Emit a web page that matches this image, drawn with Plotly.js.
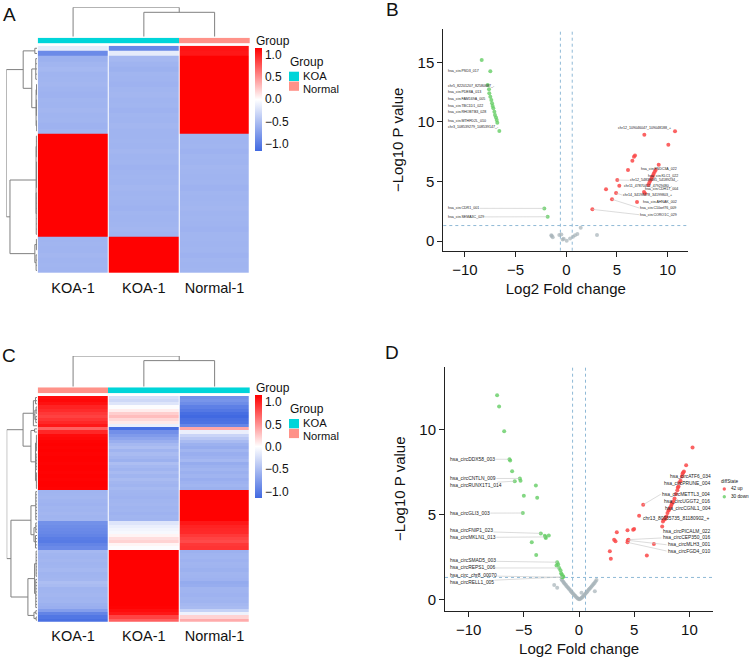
<!DOCTYPE html>
<html><head><meta charset="utf-8">
<script src="https://cdn.plot.ly/plotly-3.0.1.min.js"></script>
<style>html,body{margin:0;padding:0;background:#fff}#chart{width:753px;height:659px}</style>
</head><body><div id="chart"></div>
<script>
// ================= DATA =================
const sampleLabels = ['KOA-1', 'KOA-1', 'Normal-1'];
const groupsA = ['KOA', 'KOA', 'Normal'];
const groupsC = ['Normal', 'KOA', 'KOA'];
const groupLevels = ['KOA', 'Normal'];

// Heatmap A: row-scaled expression (rows = circRNAs, cols = samples)
const heatA = [
  [-0.15,-0.92,1.07],[-0.90,-0.15,1.05],
  [-0.60,-0.55,1.15],[-0.57,-0.58,1.15],[-0.55,-0.60,1.15],[-0.58,-0.57,1.15],[-0.57,-0.58,1.15],
  [-0.56,-0.59,1.15],[-0.58,-0.57,1.15],[-0.59,-0.56,1.15],[-0.57,-0.58,1.15],[-0.58,-0.57,1.15],
  [-0.56,-0.59,1.15],[-0.58,-0.57,1.15],[-0.57,-0.58,1.15],[-0.59,-0.56,1.15],[-0.57,-0.58,1.15],
  [1.15,-0.58,-0.57],[1.15,-0.57,-0.58],[1.15,-0.58,-0.57],[1.15,-0.56,-0.59],[1.15,-0.58,-0.57],
  [1.15,-0.57,-0.58],[1.15,-0.59,-0.56],[1.15,-0.58,-0.57],[1.15,-0.57,-0.58],[1.15,-0.58,-0.57],
  [1.15,-0.56,-0.59],[1.15,-0.58,-0.57],[1.15,-0.57,-0.58],[1.15,-0.58,-0.57],[1.15,-0.59,-0.56],
  [1.15,-0.57,-0.58],[1.15,-0.58,-0.57],[1.15,-0.57,-0.58],[1.15,-0.56,-0.59],[1.15,-0.58,-0.57],
  [-0.58,1.15,-0.57],[-0.57,1.15,-0.58],[-0.58,1.15,-0.57],[-0.56,1.15,-0.59],[-0.58,1.15,-0.57],
  [-0.57,1.15,-0.58],[-0.58,1.15,-0.57]
];

// Heatmap C
const heatC = [
  [1.10,-0.25,-0.85],[1.12,-0.30,-0.82],[1.08,-0.20,-0.88],[1.00,-0.02,-0.98],[0.96,0.08,-1.04],
  [0.90,0.22,-1.12],[0.86,0.30,-1.16],[0.92,0.18,-1.10],[0.98,0.10,-1.08],[1.05,-0.12,-0.93],
  [0.72,-1.12,0.40],[0.98,-0.86,-0.12],
  [1.10,-0.78,-0.32],[1.12,-0.70,-0.42],[1.14,-0.62,-0.52],[1.15,-0.55,-0.60],[1.14,-0.50,-0.64],
  [1.15,-0.58,-0.57],[1.14,-0.52,-0.62],[1.15,-0.56,-0.59],[1.15,-0.60,-0.55],[1.14,-0.50,-0.64],
  [1.15,-0.55,-0.60],[1.15,-0.58,-0.57],[1.14,-0.53,-0.61],[1.15,-0.57,-0.58],[1.14,-0.52,-0.62],
  [1.15,-0.56,-0.59],[1.15,-0.58,-0.57],[1.14,-0.54,-0.60],
  [-0.58,-0.57,1.15],[-0.57,-0.58,1.15],[-0.56,-0.59,1.15],[-0.58,-0.57,1.15],[-0.59,-0.56,1.15],
  [-0.57,-0.58,1.15],[-0.58,-0.57,1.15],[-0.56,-0.59,1.15],[-0.58,-0.57,1.15],[-0.57,-0.58,1.15],
  [-0.85,-0.20,1.05],[-0.88,-0.12,1.00],[-0.90,-0.08,0.98],[-0.92,-0.05,0.97],[-0.95,0.05,0.90],
  [-1.00,0.15,0.85],[-1.02,0.20,0.82],[-0.95,0.05,0.90],[-0.90,-0.02,0.92],
  [-0.55,1.15,-0.60],[-0.57,1.15,-0.58],[-0.58,1.15,-0.57],[-0.56,1.15,-0.59],[-0.58,1.15,-0.57],
  [-0.57,1.15,-0.58],[-0.55,1.15,-0.60],[-0.58,1.15,-0.57],[-0.57,1.15,-0.58],[-0.56,1.15,-0.59],
  [-0.50,1.15,-0.65],[-0.52,1.15,-0.63],[-0.58,1.15,-0.57],[-0.57,1.15,-0.58],[-0.56,1.15,-0.59],
  [-0.58,1.15,-0.57],[-0.57,1.15,-0.58],[-0.60,1.15,-0.55],[-0.62,1.14,-0.52],
  [-0.75,1.10,-0.35],[-0.95,1.05,-0.10],[-1.05,0.85,0.20],[-1.10,0.72,0.38]
];

// Dendrograms: node = [height, children], leaf = index
const colTreeA = [1.0, [0, [0.83, [1, 2]]]];
const colTreeC = [1.0, [0, [0.85, [1, 2]]]];
const rowTreeA = [1.0, [
  [0.45, [
    [0.07, [0, 1]],
    [0.17, [[0.04, [2, 3, 4, 5, 6]], [0.03, [[0.015, [7, 8, 9]], [0.02, [10, 11, 12, 13]], [0.01, [14, 15, 16]]]]]]
  ]],
  [0.88, [
    [0.03, [[0.02, [17, 18, 19, 20, 21]], [0.015, [22, 23, 24, 25, 26, 27]], [0.025, [28, 29, 30, 31, 32, 33, 34, 35, 36]]]],
    [0.07, [[0.02, [37, 38, 39]], [0.03, [40, 41, 42, 43]]]]
  ]]
]];
const rowTreeC = [1.0, [
  [0.46, [
    [0.12, [[0.05, [0, 1, 2]], [0.07, [[0.03, [3, 4, 5]], [0.04, [6, 7, 8]]]], 9]],
    [0.2, [[0.08, [10, 11]], [0.05, [[0.02, [12, 13, 14, 15, 16, 17]], [0.03, [18, 19, 20, 21, 22, 23]], [0.02, [24, 25, 26, 27, 28, 29]]]]]]
  ]],
  [0.86, [
    [0.2, [[0.04, [30, 31, 32, 33, 34, 35, 36, 37, 38, 39]], [0.1, [[0.04, [40, 41, 42, 43]], [0.05, [44, 45, 46, 47, 48]]]]]],
    [0.3, [[0.08, [[0.03, [49, 50, 51, 52, 53, 54, 55, 56, 57]], [0.04, [58, 59, 60, 61, 62, 63, 64, 65, 66, 67]]]], [0.1, [[0.04, [68, 69]], [0.03, [70, 71]]]]]]
  ]]
]];

// Volcano B
const bDownX = [-8.35,-7.50,-7.76,-7.63,-7.60,-7.50,-7.40,-7.33,-7.27,-7.20,-7.10,-7.04,-6.94,-6.87,-6.81,-6.61,-2.17,-1.84];
const bDownY = [15.20,14.25,13.10,12.74,12.40,12.12,11.84,11.56,11.34,11.14,10.86,10.58,10.38,10.16,9.93,9.24,2.74,2.04];
const bUpX = [7.70,10.73,10.07,6.78,6.68,6.52,6.09,9.12,8.82,8.72,8.62,8.56,8.46,8.39,8.29,8.19,8.09,5.03,5.23,3.92,4.91,7.67,7.77,4.51,6.98,2.57];
const bUpY = [8.93,9.21,8.09,7.19,7.08,6.74,5.96,6.41,5.96,5.82,5.65,5.51,5.37,5.21,5.07,4.90,4.70,5.12,4.64,4.34,4.03,4.11,4.00,3.50,3.27,2.66];
const bNsX = [-1.48,-1.34,-1.44,-0.69,-0.49,-0.36,-0.26,0.04,0.37,0.66,0.86,1.09,1.42,3.03];
const bNsY = [0.48,0.31,0.42,0.50,0.56,0.14,0.19,0.03,0.22,0.36,0.48,0.59,1.12,0.50];

// Volcano D
const dDownX = [-7.42,-7.24,-6.78,-6.30,-6.24,-6.06,-5.36,-5.30,-5.82,-3.91,-5.00,-3.79,-5.09,-3.46,-3.10,-3.01,-2.74,-3.04,-4.28,-3.88,-1.98,-1.89,-1.80,-1.68,-1.56,-1.44,-1.53,-1.44,-2.04,-1.62];
const dDownY = [12.04,11.39,9.92,8.27,8.20,7.57,7.14,7.00,6.98,6.73,6.12,6.00,5.10,3.90,3.76,3.63,3.78,3.69,3.37,2.63,2.20,2.06,1.86,1.73,1.47,1.37,1.31,1.33,2.00,1.55];
const dUpX = [10.28,9.70,9.43,9.37,9.31,9.19,9.01,8.95,8.77,8.52,8.43,8.32,8.22,8.10,8.01,7.92,7.80,7.68,5.81,5.44,7.53,3.42,4.39,4.99,4.90,3.18,3.30,4.42,4.48,4.39,6.78,2.79,2.88,6.14,9.50,9.10,8.65,8.38,8.15,7.86,8.90,7.60];
const dUpY = [8.96,7.92,7.49,7.41,7.25,7.00,6.67,6.61,6.22,5.78,5.69,5.49,5.39,5.25,5.10,4.90,4.75,4.71,5.59,4.94,4.31,3.96,4.08,4.16,4.12,3.53,3.43,3.49,3.53,3.37,3.27,2.84,2.41,2.59,7.55,6.90,5.95,5.60,5.30,4.85,6.45,4.60];
const dNsX = [-1.98,-1.58,-1.52,-1.43,-1.37,-1.30,-1.21,-1.14,-1.05,-0.97,-0.90,-0.81,-0.73,-0.66,-0.57,-0.49,-0.41,-0.33,-0.24,-0.16,-0.08,0.01,0.09,0.18,0.27,0.35,0.44,0.52,0.61,0.70,0.78,0.87,0.95,1.04,1.13,1.22,1.31,1.40,1.49,1.58,1.43,-2.25,0.22];
const dNsY = [0.69,1.18,1.12,1.05,0.99,0.93,0.87,0.80,0.74,0.68,0.62,0.56,0.49,0.43,0.37,0.31,0.25,0.20,0.14,0.09,0.04,0.01,0.03,0.07,0.12,0.18,0.24,0.30,0.37,0.43,0.50,0.57,0.63,0.70,0.77,0.84,0.91,0.98,1.06,1.15,0.49,0.85,0.40];

const fcThreshold = 0.585;   // log2(1.5)
const pThreshold = 1.301;    // -log10(0.05)
const upCountD = 42, downCountD = 30;

// label -> point links: [text, series, index]
const labelsB = [
  ['hsa_circPSD3_017','d',1],['chr5_82201207_82580687_-','d',2],['hsa_circPDE8A_013','d',3],
  ['hsa_circFAM169A_005','d',5],['hsa_circTBC1D1_022','d',8],['hsa_circRHOBTB3_028','d',10],
  ['hsa_circMTHFD2L_010','d',13],['chr3_108539279_108539147_-','d',15],['hsa_circCDR1_001','d',16],
  ['hsa_circSEMA3C_029','d',17],['chr12_109046047_109048188_+','u',0],['hsa_circFNDC3A_022','u',8],
  ['hsa_circKLC1_022','u',11],['chr12_54839085_54189234_-','u',17],['chr11_47870412_47929480_-','u',18],
  ['hsa_circCDH17_004','u',16],['chr14_34198478_34199803_+','u',20],['hsa_circAHNAK_002','u',24],
  ['hsa_circC10orf76_009','u',23],['hsa_circCORO1C_029','u',25]
];
const labelsD = [
  ['hsa_circDDX58_003','d',3],['hsa_circCNTLN_009','d',6],['hsa_circRUNX1T1_014','d',8],
  ['hsa_circGLI3_003','d',12],['hsa_circFNIP1_023','d',13],['hsa_circMKLN1_013','d',17],
  ['hsa_circSMAD5_003','d',20],['hsa_circREPS1_006','d',22],['hsa_circ_chr8_00070','d',26],
  ['hsa_circRELL1_005','d',27],['hsa_circATF6_034','u',3],['hsa_circPRUNE_004','u',6],
  ['hsa_circMETTL3_004','u',18],['hsa_circUGGT2_016','u',9],['hsa_circCGNL1_004','u',12],
  ['chr13_80935735_81180902_+','u',17],['hsa_circPICALM_022','u',20],['hsa_circCEP350_016','u',28],
  ['hsa_circMLH3_001','u',27],['hsa_circFGD4_010','u',29]
];

// ================= LAYOUT HELPERS =================
const W = 753, H = 659;
const px = v => v / W, py = v => 1 - v / H;
const domX = (a, b) => [px(a), px(b)];
const domY = (top, bottom) => [py(bottom), py(top)];
const FONT = 'Liberation Sans, Arial, Helvetica, sans-serif';
const COL_KOA = '#00D5D9', COL_NORMAL = '#FF9289';
const RED = 'rgba(250,72,72,0.85)', GREEN = 'rgba(100,205,100,0.8)', GREY = 'rgba(165,178,184,0.7)';

// label placements (data coords of label left edge / middle, and whether a segment is drawn)
const placeB = [
  [-11.75,14.25,0],[-11.75,13.01,0],[-11.75,12.49,0],[-11.75,11.92,0],[-11.75,11.36,0],[-11.75,10.81,0],
  [-11.75,10.10,0],[-11.75,9.57,0],[-11.75,2.75,1],[-11.75,2.02,1],[4.98,9.51,0],[7.28,6.02,0],
  [7.94,5.48,0],[6.22,5.10,1],[5.63,4.59,0],[7.67,4.39,0],[5.53,3.86,1],[7.50,3.30,0],[7.21,2.77,1],[7.21,2.21,1]
];
const placeD = [
  [-11.79,8.27,1],[-11.79,7.13,1],[-11.79,6.74,1],[-11.79,5.09,1],[-11.79,4.06,1],[-11.79,3.65,1],
  [-11.79,2.29,1],[-11.79,1.86,1],[-11.79,1.43,1],[-11.79,1.01,1],[8.13,7.24,0],[7.59,6.83,0],
  [7.41,6.21,1],[7.62,5.77,0],[7.68,5.36,0],[5.66,4.77,0],[7.53,4.04,0],[7.47,3.63,1],[7.93,3.23,1],[7.93,2.86,1]
];

// ================= BUILD =================
function treeSegments(tree) {
  const segs = [];
  function walk(node) {
    if (typeof node === 'number') return { pos: node, h: 0 };
    const h = node[0];
    const kids = node[1].map(walk);
    const ps = kids.map(k => k.pos);
    const lo = Math.min(...ps), hi = Math.max(...ps);
    segs.push([h, lo, h, hi]);
    kids.forEach(k => segs.push([k.h, k.pos, h, k.pos]));
    return { pos: (lo + hi) / 2, h: h };
  }
  walk(tree);
  return segs;
}
function dendroTrace(tree, orient, xa, ya) {
  const xs = [], ys = [];
  treeSegments(tree).forEach(s => {
    if (orient === 'left') { xs.push(s[0], s[2], null); ys.push(s[1], s[3], null); }
    else { xs.push(s[1], s[3], null); ys.push(s[0], s[2], null); }
  });
  return { type: 'scatter', mode: 'lines', x: xs, y: ys, xaxis: xa, yaxis: ya,
    line: { color: '#808080', width: 1 }, hoverinfo: 'skip', showlegend: false };
}
const heatScale = [[0, '#4169E1'], [0.5, '#FFFFFF'], [1, '#FF0000']];
function heatTrace(z, xa, ya, cbTop) {
  return { type: 'heatmap', z: z, x: sampleLabels.map((_, i) => i), y: z.map((_, i) => i),
    xaxis: xa, yaxis: ya, colorscale: heatScale, zmin: -1.155, zmax: 1.155, xgap: 1,
    hoverinfo: 'skip',
    colorbar: { x: px(255.3), xanchor: 'left', xpad: 0, y: py(cbTop), yanchor: 'top', ypad: 0,
      thickness: 7, thicknessmode: 'pixels', len: 103, lenmode: 'pixels', outlinewidth: 0,
      tickvals: [-1, -0.5, 0, 0.5, 1], tickformat: '.1f', ticks: '',
      tickfont: { size: 12, color: '#111', family: FONT } } };
}
function groupTrace(groups, xa, ya) {
  return { type: 'heatmap', z: [groups.map(g => groupLevels.indexOf(g))], x: groups.map((_, i) => i), y: [0],
    xaxis: xa, yaxis: ya, zmin: 0, zmax: 1, showscale: false, hoverinfo: 'skip',
    colorscale: [[0, COL_KOA], [0.5, COL_KOA], [0.5, COL_NORMAL], [1, COL_NORMAL]] };
}
function pts(x, y, color, xa, ya) {
  return { type: 'scatter', mode: 'markers', x: x, y: y, xaxis: xa, yaxis: ya,
    marker: { color: color, size: 4 }, hoverinfo: 'skip', showlegend: false };
}

const traces = [
  heatTrace(heatA, 'x', 'y', 47.7), groupTrace(groupsA, 'x', 'y2'),
  dendroTrace(colTreeA, 'top', 'x', 'y3'), dendroTrace(rowTreeA, 'left', 'x2', 'y'),
  heatTrace(heatC, 'x3', 'y4', 395.3), groupTrace(groupsC, 'x3', 'y5'),
  dendroTrace(colTreeC, 'top', 'x3', 'y6'), dendroTrace(rowTreeC, 'left', 'x4', 'y4'),
  pts(bNsX, bNsY, GREY, 'x5', 'y7'), pts(bDownX, bDownY, GREEN, 'x5', 'y7'), pts(bUpX, bUpY, RED, 'x5', 'y7'),
  pts(dNsX, dNsY, GREY, 'x6', 'y8'), pts(dDownX, dDownY, GREEN, 'x6', 'y8'), pts(dUpX, dUpY, RED, 'x6', 'y8')
];

const hidden = { visible: false, fixedrange: true };
const heatX = (dom, anchor) => ({ domain: dom, range: [-0.5, 2.5], anchor: anchor, tickvals: [0, 1, 2],
  ticktext: sampleLabels, ticks: '', showgrid: false, zeroline: false, showline: false,
  tickfont: { size: 14.5, color: '#111', family: FONT }, ticklabelstandoff: 4 });
const volAxis = (dom, range, anchor, title, tfont) => ({ domain: dom, range: range, anchor: anchor,
  showgrid: false, zeroline: false, showline: true, linecolor: '#222', linewidth: 1,
  ticks: 'outside', ticklen: 5, tickwidth: 1, tickcolor: '#222', dtick: 5, tick0: 0,
  tickfont: { size: 15, color: '#111', family: FONT },
  title: { text: title, font: { size: 15, color: '#111', family: FONT }, standoff: tfont } });

const layout = {
  width: W, height: H, margin: { l: 0, r: 0, t: 0, b: 0 }, paper_bgcolor: '#fff', plot_bgcolor: '#fff',
  font: { family: FONT, color: '#111' }, showlegend: false,
  xaxis: heatX(domX(37.7, 250), 'y'),
  yaxis: Object.assign({ domain: domY(45.7, 273), range: [heatA.length - 0.5, -0.5], anchor: 'x' }, hidden),
  yaxis2: Object.assign({ domain: domY(37.7, 43.3), range: [-0.5, 0.5], anchor: 'x' }, hidden),
  yaxis3: Object.assign({ domain: domY(7.3, 36.7), range: [0, 1], anchor: 'x' }, hidden),
  xaxis2: Object.assign({ domain: domX(6.3, 37), range: [1, 0], anchor: 'y' }, hidden),
  xaxis3: heatX(domX(37.7, 250), 'y4'),
  yaxis4: Object.assign({ domain: domY(396, 621.7), range: [heatC.length - 0.5, -0.5], anchor: 'x3' }, hidden),
  yaxis5: Object.assign({ domain: domY(387.3, 393.3), range: [-0.5, 0.5], anchor: 'x3' }, hidden),
  yaxis6: Object.assign({ domain: domY(356, 386.7), range: [0, 1], anchor: 'x3' }, hidden),
  xaxis4: Object.assign({ domain: domX(6.7, 37), range: [1, 0], anchor: 'y4' }, hidden),
  xaxis5: volAxis(domX(443.3, 688.3), [-12.14, 12.04], 'y7', 'Log2 Fold change', 6),
  yaxis7: volAxis(domY(29, 250.7), [-0.81, 17.8], 'x5', '\u2212Log10 P value', 10),
  xaxis6: volAxis(domX(445, 713.3), [-12.14, 12.16], 'y8', 'Log2 Fold change', 6),
  yaxis8: volAxis(domY(366.7, 610.7), [-0.66, 13.73], 'x6', '\u2212Log10 P value', 10),
  shapes: [], annotations: []
};

// threshold lines
[['x5', 'y7'], ['x6', 'y8']].forEach(([xa, ya]) => {
  const ln = { color: '#8FB9D6', width: 1, dash: 'dot' };
  [-fcThreshold, fcThreshold].forEach(t => layout.shapes.push({ type: 'line', xref: xa, yref: ya + ' domain',
    x0: t, x1: t, y0: 0, y1: 1, line: ln, layer: 'below' }));
  layout.shapes.push({ type: 'line', xref: xa + ' domain', yref: ya, x0: 0, x1: 1, y0: pThreshold, y1: pThreshold,
    line: ln, layer: 'below' });
});

// gene labels
function addLabels(labels, place, series, xa, ya, fsize) {
  labels.forEach((lb, i) => {
    const s = series[lb[1]];
    const p = place[i];
    const base = { text: lb[0], xref: xa, yref: ya, xanchor: 'left', yanchor: 'middle',
      font: { size: fsize, color: '#222', family: FONT }, borderpad: 0 };
    if (p[2]) {
      layout.annotations.push(Object.assign(base, { x: s[0][lb[2]], y: s[1][lb[2]], axref: xa, ayref: ya,
        ax: p[0], ay: p[1], showarrow: true, arrowhead: 0, arrowwidth: 0.6, arrowcolor: '#C4C4C4', standoff: 0 }));
    } else {
      layout.annotations.push(Object.assign(base, { x: p[0], y: p[1], showarrow: false }));
    }
  });
}
addLabels(labelsB, placeB, { d: [bDownX, bDownY], u: [bUpX, bUpY] }, 'x5', 'y7', 3.6);
addLabels(labelsD, placeD, { d: [dDownX, dDownY], u: [dUpX, dUpY] }, 'x6', 'y8', 4.9);

// paper text helper
function ptext(text, x, y, size, anchor) {
  layout.annotations.push({ text: text, xref: 'paper', yref: 'paper', x: px(x), y: py(y), showarrow: false,
    xanchor: anchor || 'left', yanchor: 'middle', borderpad: 0,
    font: { size: size, color: '#111', family: FONT } });
}
// panel letters
ptext('A', 9, 14.5, 19, 'center'); ptext('B', 392, 10, 19, 'center');
ptext('C', 8.5, 355, 19, 'center'); ptext('D', 392, 352.5, 19, 'center');
// heatmap legends
[[40.7, 62, 71.7, 81.5], [387.7, 409.3, 419, 428.8]].forEach(([gT, lgT, s1, s2]) => {
  ptext('Group', 254.5, gT, 12);
  ptext('Group', 288.5, lgT, 12);
  layout.shapes.push({ type: 'rect', xref: 'paper', yref: 'paper', x0: px(289), x1: px(299), y0: py(s1 + 9.3), y1: py(s1),
    fillcolor: COL_KOA, line: { width: 0 } });
  layout.shapes.push({ type: 'rect', xref: 'paper', yref: 'paper', x0: px(289), x1: px(299), y0: py(s2 + 9.3), y1: py(s2),
    fillcolor: COL_NORMAL, line: { width: 0 } });
  ptext(groupLevels[0], 302, s1 + 4.5, 11.2);
  ptext(groupLevels[1], 302, s1 + 17.1, 11.2);
});
// volcano D legend
ptext('diffState', 719.5, 481, 4.7);
layout.shapes.push({ type: 'circle', xref: 'paper', yref: 'paper', x0: px(722.6), x1: px(726), y0: py(490.7), y1: py(487.3),
  fillcolor: RED, line: { width: 0 } });
layout.shapes.push({ type: 'circle', xref: 'paper', yref: 'paper', x0: px(722.6), x1: px(726), y0: py(498.4), y1: py(495),
  fillcolor: GREEN, line: { width: 0 } });
ptext(upCountD + ' up', 729.5, 489, 4.7);
ptext(downCountD + ' down', 729.5, 496.7, 4.7);

Plotly.newPlot('chart', traces, layout, { staticPlot: true, displayModeBar: false });
</script>
</body></html>
